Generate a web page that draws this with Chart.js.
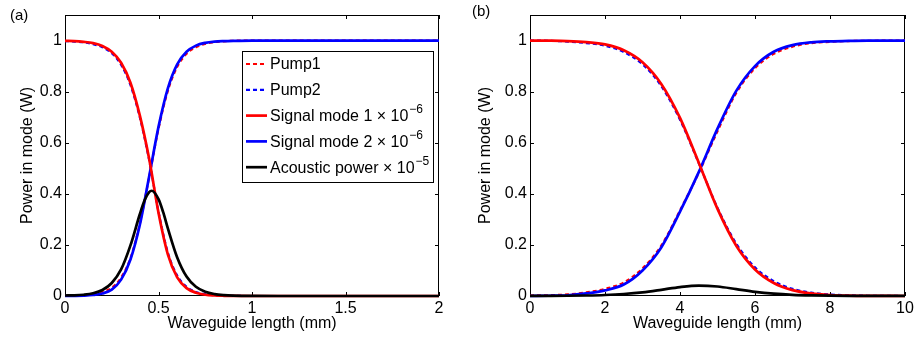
<!DOCTYPE html>
<html>
<head>
<meta charset="utf-8">
<script src="https://cdn.jsdelivr.net/npm/chart.js@4.4.1/dist/chart.umd.min.js"></script>
<style>
  html, body { margin: 0; padding: 0; background: #fff; }
  #wrap { position: relative; width: 917px; height: 339px; overflow: hidden; }
  .panel { position: absolute; top: 0; height: 339px; }
  #panelA { left: 0; width: 458px; }
  #panelB { left: 458px; width: 459px; }
  .tag { position: absolute; font: 15px "Liberation Sans", Arial, sans-serif; color: #000; line-height: 17px; }
</style>
</head>
<body>
<div id="wrap">
  <div class="panel" id="panelA"><canvas id="chartA"></canvas></div>
  <div class="panel" id="panelB"><canvas id="chartB"></canvas></div>
  <div class="tag" style="left:10px; top:6px;">(a)</div>
  <div class="tag" style="left:472px; top:2px;">(b)</div>
</div>
<script>
// ---------- data ----------
const seriesNames = ["Pump1", "Pump2", "Signal mode 1 \u00d7 10", "Signal mode 2 \u00d7 10", "Acoustic power \u00d7 10"];
const seriesExponents = ["", "", "\u22126", "\u22126", "\u22125"];
const yTicks = [0, 0.2, 0.4, 0.6, 0.8, 1];

// panel (a): 0 - 2 mm
const xTicksA = [0, 0.5, 1, 1.5, 2];
const xA = [0, 0.05, 0.1, 0.15, 0.2, 0.25, 0.3, 0.35, 0.4, 0.45, 0.5, 0.55, 0.6, 0.65, 0.7, 0.75, 0.8, 0.85, 0.9, 1.0, 1.2, 1.5, 2.0];
const pump1A   = [0.001, 0.002, 0.004, 0.008, 0.016, 0.032, 0.072, 0.148, 0.282, 0.465, 0.655, 0.803, 0.897, 0.948, 0.974, 0.987, 0.994, 0.997, 0.999, 1, 1, 1, 1];
const pump2A   = [0.998, 0.996, 0.993, 0.986, 0.974, 0.95, 0.905, 0.826, 0.70, 0.532, 0.33, 0.17, 0.08, 0.036, 0.016, 0.007, 0.003, 0.0013, 0.0005, 0, 0, 0, 0];
const signal1A = [0.999, 0.998, 0.995, 0.99, 0.979, 0.956, 0.913, 0.835, 0.707, 0.537, 0.326, 0.163, 0.073, 0.031, 0.013, 0.005, 0.002, 0.0008, 0.0003, 0, 0, 0, 0];
const signal2A = [0, 0.0005, 0.0015, 0.004, 0.01, 0.025, 0.064, 0.143, 0.278, 0.468, 0.662, 0.813, 0.907, 0.956, 0.98, 0.991, 0.996, 0.998, 0.999, 1, 1, 1, 1];
const acousticXA = [0, 0.05, 0.1, 0.15, 0.2, 0.25, 0.3, 0.35, 0.4, 0.425, 0.45, 0.464, 0.5, 0.525, 0.55, 0.6, 0.65, 0.7, 0.75, 0.8, 0.85, 0.9, 1.0, 1.2, 2.0];
const acousticA  = [0.002, 0.0025, 0.005, 0.0107, 0.0236, 0.051, 0.104, 0.198, 0.32, 0.374, 0.407, 0.412, 0.379, 0.328, 0.265, 0.151, 0.076, 0.036, 0.0165, 0.0075, 0.0034, 0.0015, 0.0003, 0, 0];

// panel (b): 0 - 10 mm
const xTicksB = [0, 2, 4, 6, 8, 10];
const xB = [0, 0.5, 1, 1.5, 2, 2.5, 3, 3.5, 4, 4.5, 5, 5.5, 6, 6.5, 7, 7.5, 8, 8.5, 9, 10];
const pump1B   = [0.002, 0.003, 0.006, 0.014, 0.028, 0.053, 0.108, 0.197, 0.335, 0.482, 0.645, 0.795, 0.892, 0.948, 0.976, 0.99, 0.995, 0.998, 0.999, 1];
const pump2B   = [1.0, 0.999, 0.996, 0.99, 0.98, 0.955, 0.907, 0.822, 0.69, 0.52, 0.345, 0.205, 0.112, 0.058, 0.028, 0.013, 0.006, 0.0025, 0.001, 0];
const signal1B = [1.0, 0.9995, 0.998, 0.994, 0.985, 0.962, 0.915, 0.83, 0.697, 0.522, 0.341, 0.197, 0.104, 0.051, 0.023, 0.01, 0.004, 0.0015, 0.0005, 0];
const signal2B = [0, 0.001, 0.003, 0.01, 0.022, 0.045, 0.1, 0.19, 0.33, 0.485, 0.655, 0.803, 0.9, 0.956, 0.982, 0.993, 0.997, 0.999, 1, 1];
const acousticB = [0.0002, 0.0005, 0.001, 0.002, 0.004, 0.0079, 0.0144, 0.0243, 0.0351, 0.0409, 0.0372, 0.027, 0.0164, 0.0091, 0.0047, 0.0024, 0.0012, 0.0006, 0.0003, 0.0001];

const FONT = '"Liberation Sans", Arial, Helvetica, sans-serif';
Chart.defaults.font.family = FONT;
Chart.defaults.font.size = 16;
Chart.defaults.color = '#000';

function pts(xs, ys) {
    return xs.map((x, i) => ({ x: x, y: ys[i] }));
}

function makeDatasets(xs, p1, p2, s1, s2, acX, ac) {
    const base = { pointRadius: 0, borderWidth: 2.7, cubicInterpolationMode: 'monotone', clip: 6, fill: false };
    return [
        { ...base, label: seriesNames[0], data: pts(xs, p1), borderColor: '#ff0000', borderDash: [4, 3], borderWidth: 2.2, order: 3 },
        { ...base, label: seriesNames[1], data: pts(xs, p2), borderColor: '#0000ff', borderDash: [4, 3], borderWidth: 2.2, order: 3 },
        { ...base, label: seriesNames[2], data: pts(xs, s1), borderColor: '#ff0000', order: 2 },
        { ...base, label: seriesNames[3], data: pts(xs, s2), borderColor: '#0000ff', order: 2 },
        { ...base, label: seriesNames[4], data: pts(acX, ac), borderColor: '#000000', order: 1 }
    ];
}

// box + inward ticks on all four sides, matlab style
const frameTicks = {
    id: 'frameTicks',
    beforeDatasetsDraw(chart) {
        const { ctx, chartArea: a, scales: { x, y } } = chart;
        ctx.save();
        ctx.strokeStyle = '#000';
        ctx.lineWidth = 1;
        ctx.strokeRect(a.left + 0.5, a.top + 0.5, a.right - a.left - 1, a.bottom - a.top - 1);
        ctx.beginPath();
        x.ticks.forEach(t => {
            const px = Math.round(x.getPixelForValue(t.value)) + 0.5;
            ctx.moveTo(px, a.bottom); ctx.lineTo(px, a.bottom - 4);
            ctx.moveTo(px, a.top); ctx.lineTo(px, a.top + 4);
        });
        y.ticks.forEach(t => {
            const py = Math.round(y.getPixelForValue(t.value)) + 0.5;
            ctx.moveTo(a.left, py); ctx.lineTo(a.left + 4, py);
            ctx.moveTo(a.right, py); ctx.lineTo(a.right - 4, py);
        });
        ctx.stroke();
        ctx.restore();
    }
};

// legend with superscript exponents
const boxLegend = {
    id: 'boxLegend',
    afterDatasetsDraw(chart, args, opts) {
        if (!opts.show) return;
        const { ctx, chartArea: a } = chart;
        const left = a.right - 197, top = a.top + 36, w = 191, h = 131;
        ctx.save();
        ctx.fillStyle = '#fff';
        ctx.fillRect(left, top, w, h);
        ctx.strokeStyle = '#000';
        ctx.lineWidth = 1;
        ctx.strokeRect(left + 0.5, top + 0.5, w, h);
        chart.data.datasets.forEach((ds, i) => {
            const cy = top + 13 + i * 25.8;
            ctx.beginPath();
            ctx.strokeStyle = ds.borderColor;
            ctx.lineWidth = ds.borderWidth;
            ctx.setLineDash(ds.borderDash || []);
            ctx.moveTo(left + 4, cy);
            ctx.lineTo(left + 25, cy);
            ctx.stroke();
            ctx.setLineDash([]);
            ctx.fillStyle = '#000';
            ctx.font = '16px ' + FONT;
            ctx.textBaseline = 'middle';
            ctx.textAlign = 'left';
            ctx.fillText(ds.label, left + 28, cy + 1);
            const exp = seriesExponents[i];
            if (exp) {
                const tw = ctx.measureText(ds.label).width;
                ctx.font = '12px ' + FONT;
                ctx.fillText(exp, left + 28 + tw + 1, cy - 6);
            }
        });
        ctx.restore();
    }
};

function makeChart(id, datasets, xTicks, xMax, pad, yWidth, showLegend) {
    return new Chart(document.getElementById(id), {
        type: 'line',
        data: { datasets: datasets },
        plugins: [frameTicks, boxLegend],
        options: {
            responsive: true,
            maintainAspectRatio: false,
            animation: false,
            layout: { padding: pad },
            plugins: {
                legend: { display: false },
                tooltip: { enabled: false },
                boxLegend: { show: showLegend }
            },
            scales: {
                x: {
                    type: 'linear',
                    min: 0,
                    max: xMax,
                    grid: { display: false, drawTicks: false },
                    border: { display: false },
                    afterBuildTicks: s => { s.ticks = xTicks.map(v => ({ value: v })); },
                    afterFit: s => { s.height = 43; },
                    ticks: { padding: 3, maxRotation: 0, autoSkip: false, callback: v => String(v) },
                    title: { display: true, text: 'Waveguide length (mm)', padding: { top: 0, bottom: 6 } }
                },
                y: {
                    min: 0,
                    max: 1.1,
                    grid: { display: false, drawTicks: false },
                    border: { display: false },
                    afterBuildTicks: s => { s.ticks = yTicks.map(v => ({ value: v })); },
                    afterFit: s => { s.width = yWidth; },
                    ticks: { padding: 3, autoSkip: false, callback: v => String(v) },
                    title: { display: true, text: 'Power in mode (W)', padding: { top: 18, bottom: 0 } }
                }
            }
        }
    });
}

makeChart('chartA',
    makeDatasets(xA, pump1A, pump2A, signal1A, signal2A, acousticXA, acousticA),
    xTicksA, 2, { top: 15, right: 19, bottom: 0, left: 0 }, 65, true);

makeChart('chartB',
    makeDatasets(xB, pump1B, pump2B, signal1B, signal2B, xB, acousticB),
    xTicksB, 10, { top: 15, right: 12, bottom: 0, left: 0 }, 72, false);
</script>
</body>
</html>
